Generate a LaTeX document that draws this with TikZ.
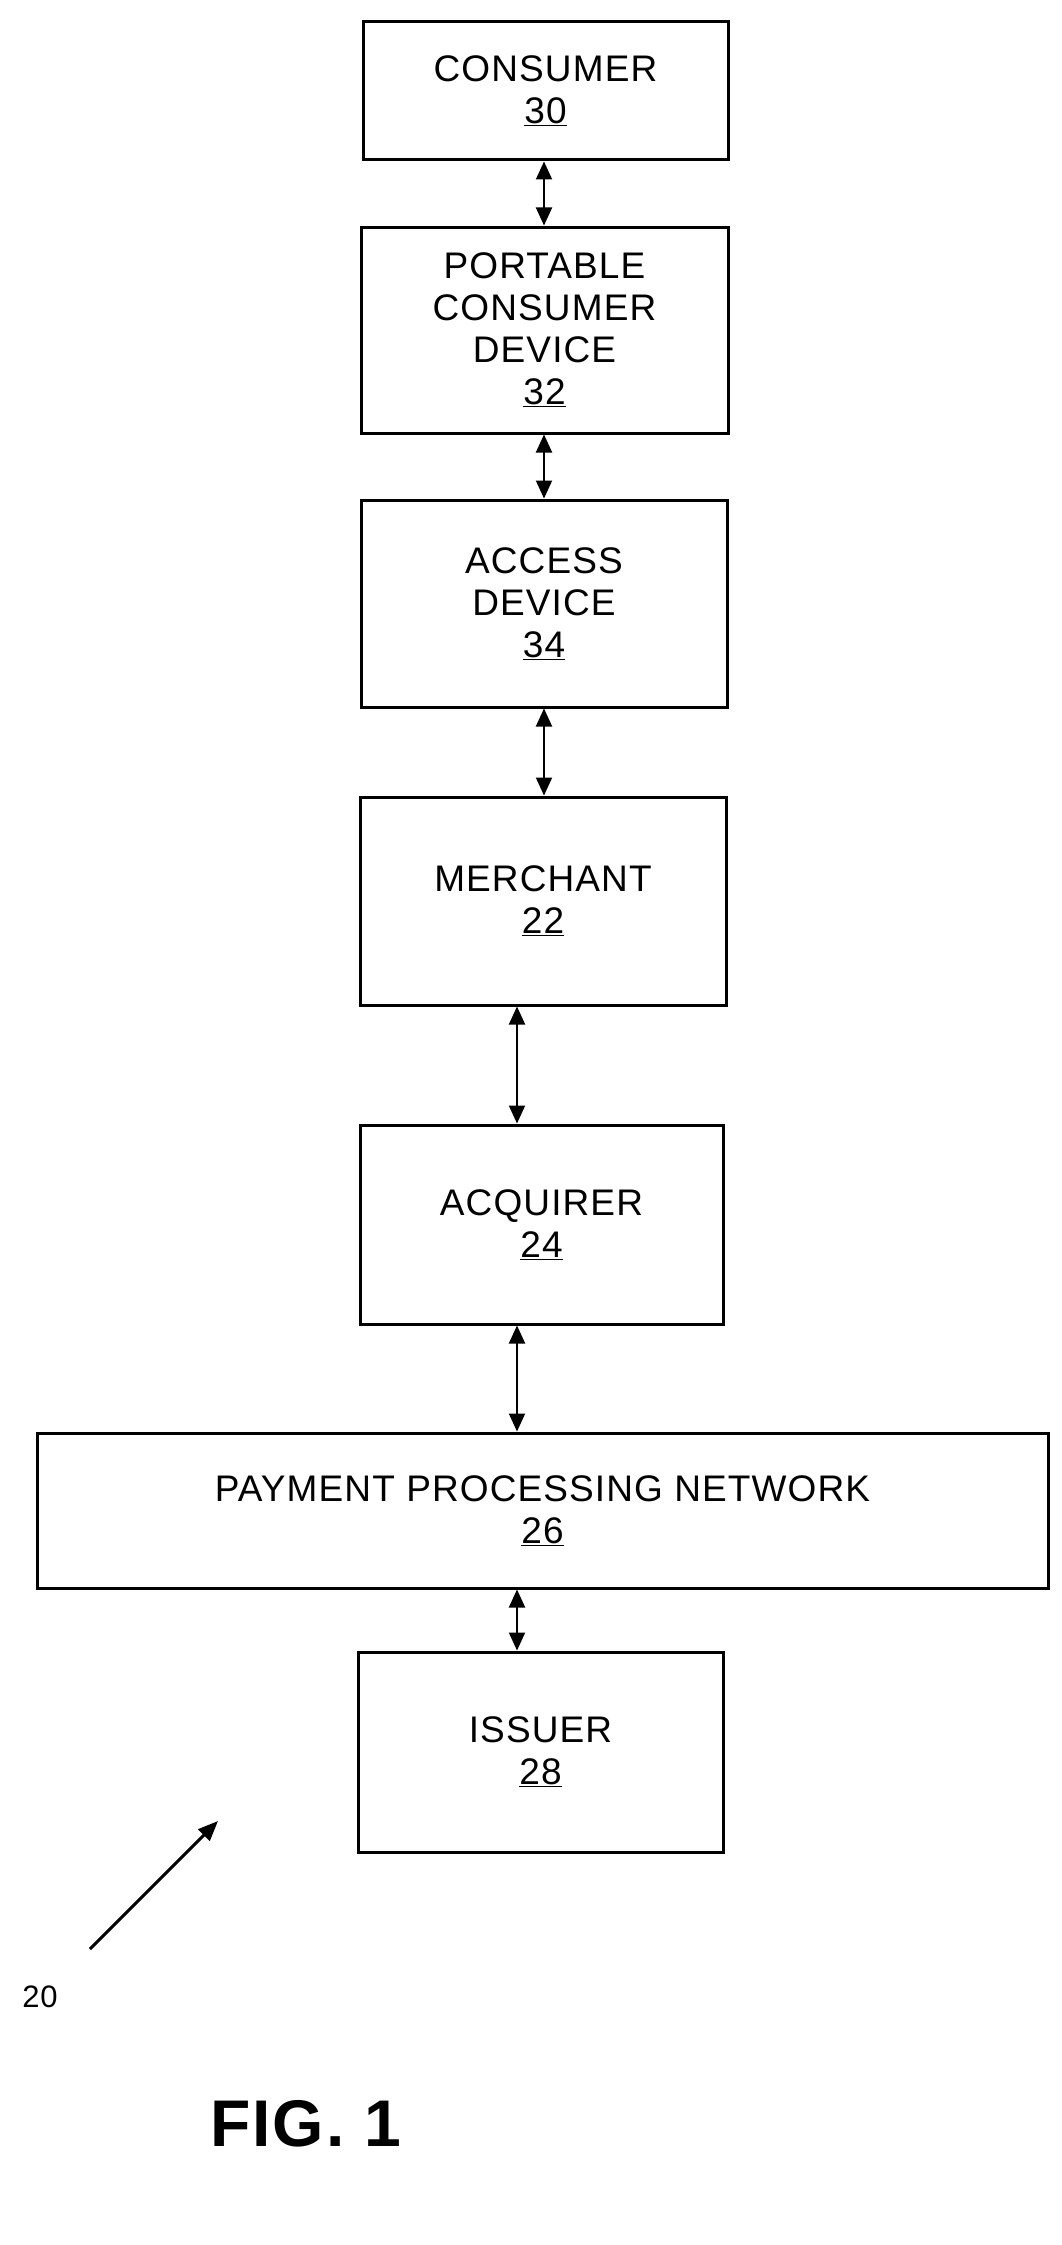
\documentclass[tikz,border=0pt]{standalone}
\usepackage{fontspec}
\setmainfont{Liberation Sans}[LetterSpace=3]
\usetikzlibrary{arrows.meta}
\begin{document}
\begin{tikzpicture}[x=1pt,y=-1pt,
  box/.style={draw,line width=3pt,inner sep=0pt,align=center,font=\fontsize{37}{42}\selectfont},
  conn/.style={line width=2pt,{Triangle[length=18pt,width=16pt]}-{Triangle[length=18pt,width=16pt]}}]
\useasboundingbox (0,0) rectangle (1061,2245);
\node[box,minimum width=365pt,minimum height=138pt] (c) at (545.5,91) {CONSUMER\\\underline{30}};
\node[box,minimum width=367pt,minimum height=206pt] (p) at (544.5,330) {PORTABLE\\CONSUMER\\DEVICE\\\underline{32}};
\node[box,minimum width=366pt,minimum height=207pt] (a) at (544,603.5) {ACCESS\\DEVICE\\\underline{34}};
\node[box,minimum width=366pt,minimum height=208pt] (m) at (543,901) {MERCHANT\\\underline{22}};
\node[box,minimum width=363pt,minimum height=199pt] (q) at (541.5,1224.5) {ACQUIRER\\\underline{24}};
\node[box,minimum width=1011pt,minimum height=155pt] (n) at (542.5,1510.5) {PAYMENT PROCESSING NETWORK\\\underline{26}};
\node[box,minimum width=365pt,minimum height=200pt] (i) at (540.5,1752) {ISSUER\\\underline{28}};
\draw[conn] (c.south -| 544,0) -- (p.north -| 544,0);
\draw[conn] (p.south -| 544,0) -- (a.north -| 544,0);
\draw[conn] (a.south -| 544,0) -- (m.north -| 544,0);
\draw[conn] (m.south -| 517,0) -- (q.north -| 517,0);
\draw[conn] (q.south -| 517,0) -- (n.north -| 517,0);
\draw[conn] (n.south -| 517,0) -- (i.north -| 517,0);
\coordinate (s) at (90,1949);
\coordinate (e) at (218,1821);
\draw[line width=3pt,-{Triangle[length=20pt,width=16pt]}] (s) -- (e);
\node[font=\fontsize{31}{34}\selectfont] (lbl) at (40,1997) {20};
\node[font=\fontsize{66}{72}\bfseries\selectfont] (fig) at (306,2124) {FIG. 1};
\end{tikzpicture}
\end{document}
